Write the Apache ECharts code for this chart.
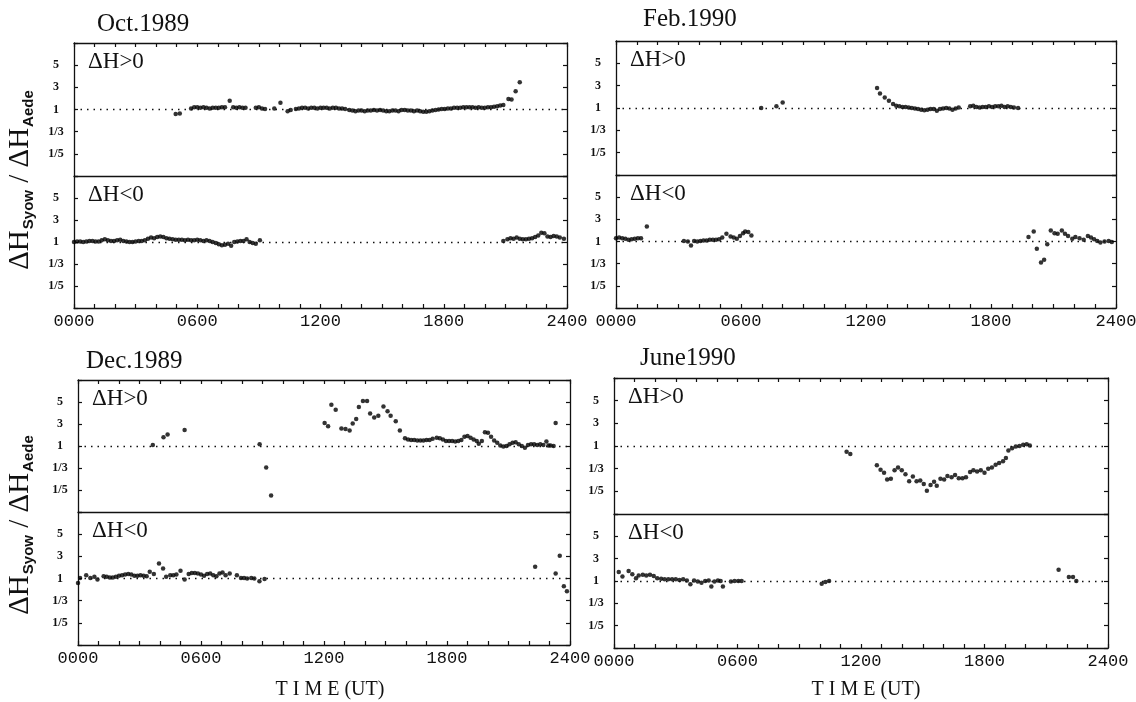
<!DOCTYPE html>
<html lang="en">
<head>
<meta charset="utf-8"/>
<title>ΔH Syow / ΔH Aede</title>
<style>
    html, body { margin: 0; padding: 0; background: #fff; }
    #chart { width: 1136px; height: 702px; }
</style>
</head>
<body>
<div id="chart"></div>
<script src="https://cdn.jsdelivr.net/npm/echarts@6/dist/echarts.min.js"></script>
<script>
// ratio level: 0 = ratio 1, +2 = 3, +4 = 5, -2 = 1/3, -4 = 1/5
var yTickValues = [-4, -2, 0, 2, 4];
var yTickLabels = ['1/5', '1/3', '1', '3', '5'];
var xTickLabels = ['0000', '0600', '1200', '1800', '2400'];
var subLabels = ['ΔH>0', 'ΔH<0'];
var monthNames = ['Oct.1989', 'Feb.1990', 'Dec.1989', 'June1990'];

// [hour UT, level]
var octUp = [[4.95,-0.4],[5.15,-0.35],
    [5.7,0.1],[5.85,0.2],[6.0,0.2],[6.15,0.15],[6.3,0.2],[6.45,0.15],[6.6,0.1],[6.75,0.15],[6.9,0.15],[7.05,0.15],[7.2,0.2],[7.35,0.2],
    [7.58,0.8],[7.75,0.2],[7.9,0.15],[8.05,0.2],[8.2,0.15],[8.35,0.15],
    [8.85,0.15],[9.0,0.2],[9.15,0.1],[9.3,0.05],[9.75,0.1],[10.05,0.6],[10.4,-0.15],[10.55,-0.05],
    [10.8,0.05],[10.95,0.1],[11.1,0.15],[11.25,0.15],[11.4,0.1],[11.55,0.15],[11.7,0.15],[11.85,0.1],[12.0,0.15],[12.15,0.15],
    [12.3,0.15],[12.45,0.1],[12.6,0.15],[12.75,0.15],[12.9,0.1],[13.05,0.1],[13.2,0.05],
    [13.4,-0.05],[13.55,-0.1],[13.7,-0.15],[13.85,-0.1],[14.0,-0.1],[14.15,-0.15],[14.3,-0.1],[14.45,-0.1],[14.6,-0.05],[14.75,-0.1],
    [14.9,-0.05],[15.05,-0.1],[15.2,-0.15],[15.35,-0.15],[15.5,-0.1],[15.65,-0.1],[15.8,-0.15],[15.95,-0.05],[16.1,-0.05],[16.25,-0.1],
    [16.4,-0.1],[16.55,-0.15],[16.7,-0.1],[16.85,-0.15],[17.0,-0.2],[17.15,-0.2],[17.3,-0.15],
    [17.45,-0.1],[17.6,-0.05],[17.75,0.0],[17.9,0.05],[18.05,0.05],[18.2,0.1],[18.35,0.1],[18.5,0.15],[18.65,0.15],[18.8,0.15],
    [18.95,0.2],[19.1,0.2],[19.25,0.2],[19.4,0.2],[19.55,0.15],[19.7,0.2],[19.85,0.15],[20.0,0.15],[20.15,0.2],[20.3,0.2],
    [20.45,0.25],[20.6,0.3],[20.75,0.35],[20.9,0.4],[21.15,0.95],[21.3,0.9],[21.5,1.65],[21.7,2.45]];

var octDn = [[0.0,0.0],[0.15,0.05],[0.3,0.05],[0.45,0.0],[0.6,0.05],[0.75,0.1],[0.9,0.1],[1.05,0.05],[1.2,0.05],[1.35,0.15],
    [1.5,0.25],[1.65,0.15],[1.8,0.1],[1.95,0.1],[2.1,0.15],[2.25,0.2],[2.4,0.1],[2.55,0.05],[2.7,0.0],[2.85,0.0],[3.0,0.05],
    [3.15,0.1],[3.3,0.1],[3.45,0.15],[3.6,0.3],[3.75,0.4],[3.9,0.35],[4.05,0.45],[4.2,0.5],[4.35,0.45],[4.5,0.35],[4.65,0.3],
    [4.8,0.25],[4.95,0.2],[5.1,0.2],[5.25,0.2],[5.4,0.15],[5.55,0.2],[5.7,0.15],[5.85,0.15],[6.0,0.2],[6.15,0.15],[6.3,0.1],
    [6.45,0.15],[6.6,0.1],[6.75,0.0],[6.9,-0.1],[7.05,-0.2],[7.2,-0.3],[7.35,-0.25],[7.5,-0.15],[7.65,-0.35],[7.8,0.0],
    [7.95,0.05],[8.1,0.1],[8.25,0.1],[8.4,0.25],[8.55,0.0],[8.7,-0.1],[8.85,-0.15],[9.05,0.15],
    [20.9,0.1],[21.1,0.25],[21.25,0.35],[21.4,0.3],[21.55,0.4],[21.7,0.3],[21.85,0.25],[22.0,0.25],[22.15,0.3],[22.3,0.35],
    [22.45,0.45],[22.6,0.6],[22.75,0.85],[22.9,0.8],[23.05,0.5],[23.2,0.45],[23.35,0.55],[23.5,0.5],[23.65,0.4],[23.85,0.3]];

var febUp = [[6.97,0.0],[7.7,0.15],[8.0,0.5],
    [12.53,1.8],[12.67,1.3],[12.9,0.95],[13.1,0.65],[13.3,0.35],[13.45,0.2],[13.6,0.15],[13.75,0.1],[13.9,0.1],[14.05,0.05],
    [14.2,0.0],[14.35,-0.05],[14.5,-0.1],[14.65,-0.15],[14.8,-0.2],[14.95,-0.15],[15.1,-0.1],[15.25,-0.1],[15.4,-0.25],
    [15.55,-0.1],[15.7,-0.05],[15.85,0.0],[16.0,-0.05],[16.15,-0.15],[16.3,-0.05],[16.45,0.05],
    [17.0,0.15],[17.15,0.2],[17.3,0.1],[17.45,0.05],[17.6,0.1],[17.75,0.1],[17.9,0.15],[18.05,0.1],[18.2,0.15],[18.35,0.15],
    [18.5,0.2],[18.65,0.1],[18.8,0.15],[18.95,0.1],[19.1,0.05],[19.3,0.0]];

var febDn = [[0.0,0.3],[0.15,0.35],[0.3,0.3],[0.45,0.25],[0.6,0.15],[0.75,0.2],[0.9,0.25],[1.05,0.3],[1.2,0.3],[1.48,1.35],
    [3.26,0.05],[3.45,0.0],[3.6,-0.35],[3.75,0.05],[3.9,0.0],[4.05,0.05],[4.2,0.1],[4.35,0.1],[4.5,0.15],[4.65,0.15],[4.8,0.15],
    [4.95,0.2],[5.1,0.35],[5.3,0.7],[5.5,0.45],[5.65,0.35],[5.8,0.25],[5.95,0.5],[6.1,0.75],[6.2,0.9],[6.35,0.85],[6.5,0.55],
    [19.8,0.4],[20.05,0.9],[20.2,-0.65],[20.4,-1.9],[20.55,-1.65],[20.7,-0.25],[20.87,1.0],[21.05,0.75],[21.2,0.7],[21.4,1.0],
    [21.55,0.7],[21.7,0.5],[21.9,0.25],[22.05,0.4],[22.25,0.3],[22.45,0.15],[22.65,0.5],[22.8,0.35],[22.95,0.2],[23.1,0.05],
    [23.25,-0.1],[23.45,0.0],[23.65,0.05],[23.8,-0.05]];

var decUp = [[3.65,0.1],[4.17,0.8],[4.37,1.05],[5.2,1.45],[8.86,0.15],[9.18,-1.95],[9.42,-4.5],
    [12.03,2.1],[12.2,1.8],[12.36,3.75],[12.57,3.3],[12.85,1.6],[13.05,1.55],[13.25,1.4],[13.4,2.05],[13.57,2.45],[13.7,3.55],
    [13.9,4.1],[14.1,4.1],[14.25,2.95],[14.45,2.6],[14.65,2.75],[14.9,3.6],[15.1,3.15],[15.25,2.75],[15.5,2.25],[15.7,1.4],
    [15.95,0.7],[16.1,0.6],[16.25,0.55],[16.4,0.55],[16.55,0.5],[16.7,0.5],[16.85,0.5],[17.0,0.55],[17.15,0.55],[17.3,0.65],
    [17.5,0.75],[17.65,0.7],[17.8,0.6],[17.95,0.45],[18.1,0.45],[18.25,0.45],[18.4,0.4],[18.55,0.45],[18.7,0.55],[18.85,0.85],
    [19.0,0.9],[19.15,0.75],[19.3,0.6],[19.45,0.45],[19.55,0.2],[19.7,0.45],[19.85,1.25],[20.0,1.2],[20.15,0.85],[20.3,0.5],
    [20.45,0.3],[20.6,0.05],[20.75,-0.05],[20.9,0.0],[21.05,0.15],[21.2,0.3],[21.35,0.35],[21.5,0.15],[21.65,0.0],[21.8,-0.15],
    [21.95,0.1],[22.1,0.15],[22.25,0.15],[22.4,0.1],[22.55,0.15],[22.7,0.1],[22.85,0.4],[22.95,0.05],[23.05,0.05],[23.2,0.0],
    [23.3,2.1]];

var decDn = [[0.0,-0.4],[0.1,0.05],[0.4,0.3],[0.6,0.05],[0.8,0.15],[0.95,-0.1],
    [1.25,0.2],[1.4,0.15],[1.55,0.1],[1.7,0.1],[1.85,0.15],[2.0,0.25],[2.15,0.3],[2.3,0.35],[2.45,0.4],[2.6,0.35],[2.75,0.25],
    [2.9,0.25],[3.05,0.3],[3.2,0.25],[3.35,0.2],[3.5,0.6],[3.7,0.4],[3.95,1.35],[4.15,0.9],[4.3,0.15],[4.5,0.3],[4.65,0.3],
    [4.8,0.35],[5.0,0.7],[5.2,-0.1],[5.4,0.4],[5.55,0.5],[5.7,0.5],[5.85,0.45],[6.0,0.35],[6.15,0.25],[6.3,0.4],[6.45,0.45],
    [6.6,0.3],[6.75,0.2],[6.9,0.45],[7.05,0.55],[7.2,0.3],[7.4,0.45],[7.75,0.3],[7.95,0.05],[8.1,0.05],[8.25,0.0],[8.45,0.05],
    [8.6,0.0],[8.85,-0.25],[9.1,-0.05],
    [22.3,1.05],[23.3,0.45],[23.5,2.05],[23.7,-0.7],[23.85,-1.15]];

var junUp = [[11.3,-0.5],[11.48,-0.7],
    [12.77,-1.7],[12.95,-2.1],[13.12,-2.35],[13.27,-2.95],[13.45,-2.9],[13.63,-2.15],[13.8,-1.9],[13.98,-2.15],[14.16,-2.5],
    [14.34,-3.1],[14.52,-2.7],[14.7,-3.1],[14.88,-3.05],[15.05,-3.35],[15.2,-3.95],[15.38,-3.45],[15.55,-3.15],[15.68,-3.5],
    [15.86,-2.9],[16.04,-2.95],[16.2,-2.65],[16.4,-2.75],[16.57,-2.55],[16.75,-2.85],[16.93,-2.85],[17.1,-2.75],[17.3,-2.3],
    [17.46,-2.15],[17.64,-2.25],[17.82,-2.15],[18.0,-2.35],[18.18,-2.0],[18.36,-1.9],[18.54,-1.65],[18.71,-1.5],[18.9,-1.35],
    [19.04,-1.05],[19.16,-0.4],[19.34,-0.2],[19.52,-0.05],[19.7,0.0],[19.88,0.1],[20.05,0.15],[20.2,0.05]];

var junDn = [[0.23,0.8],[0.41,0.4],[0.71,0.9],[0.89,0.6],[1.07,0.25],[1.2,0.5],[1.4,0.55],[1.57,0.5],[1.75,0.55],[1.93,0.45],
    [2.1,0.25],[2.29,0.2],[2.46,0.15],[2.64,0.15],[2.82,0.15],[3.0,0.15],[3.18,0.1],[3.36,0.15],[3.54,0.05],[3.71,-0.3],
    [3.89,0.05],[4.07,-0.05],[4.25,-0.15],[4.43,0.0],[4.6,0.05],[4.73,-0.5],[4.88,-0.05],[5.05,0.05],[5.18,0.0],[5.29,-0.5],
    [5.68,-0.05],[5.86,0.0],[6.04,0.0],[6.2,0.0],
    [10.09,-0.25],[10.27,-0.1],[10.45,0.0],
    [21.6,1.0],[22.1,0.35],[22.3,0.35],[22.46,0.0]];

var seriesData = [octUp, octDn, febUp, febDn, decUp, decDn, junUp, junDn];

// panel frames: left, right, top, divider, bottom (px) and title position
var frames = [
    {l: 74, r: 567, t: 43, m: 176, b: 308, tx: 97, ty: 24},
    {l: 616, r: 1116, t: 41, m: 175, b: 308, tx: 643, ty: 19},
    {l: 78, r: 570, t: 380, m: 512, b: 645, tx: 86, ty: 361},
    {l: 614, r: 1108, t: 378, m: 514, b: 648, tx: 640, ty: 358}
];

var ink = '#111';
var chart = echarts.init(document.getElementById('chart'));

var grids = [], xAxes = [], yAxes = [], series = [], graphics = [];

function levelLabel(v) {
    var i = yTickValues.indexOf(v);
    return i < 0 ? '' : yTickLabels[i];
}

function frameLine() {
    return {show: true, onZero: false, lineStyle: {color: ink, width: 1.3}};
}

function innerTick(show) {
    return {show: show, inside: true, length: 4, lineStyle: {color: ink, width: 1.2}};
}

for (var p = 0; p < 4; p++) {
    var f = frames[p];
    for (var s = 0; s < 2; s++) {
        var g = p * 2 + s;
        var gTop = s === 0 ? f.t : f.m;
        var gBottom = s === 0 ? f.m : f.b;
        grids.push({
            left: f.l, top: gTop, width: f.r - f.l, height: gBottom - gTop,
            containLabel: false, outerBoundsMode: 'none'
        });

        // bottom x axis
        xAxes.push({
            type: 'value', gridIndex: g, min: 0, max: 24, interval: 1, position: 'bottom',
            axisLine: frameLine(),
            axisTick: innerTick(s === 1),
            axisLabel: {
                show: s === 1, margin: 5, color: ink, fontSize: 17,
                fontFamily: 'Liberation Mono',
                formatter: function (v) { return v % 6 === 0 ? xTickLabels[v / 6] : ''; }
            },
            splitLine: {show: false}
        });
        // top x axis, ticks only
        xAxes.push({
            type: 'value', gridIndex: g, min: 0, max: 24, interval: 1, position: 'top',
            show: s === 0,
            axisLine: frameLine(),
            axisTick: innerTick(true),
            axisLabel: {show: false},
            splitLine: {show: false}
        });
        yAxes.push({
            type: 'value', gridIndex: g, min: -6, max: 6, interval: 2, position: 'left',
            axisLine: frameLine(),
            axisTick: innerTick(true),
            axisLabel: {
                color: ink, fontSize: 12, fontWeight: 'bold', fontFamily: 'Liberation Serif',
                align: 'center', margin: 18, formatter: levelLabel
            },
            splitLine: {show: false}
        });
        yAxes.push({
            type: 'value', gridIndex: g, min: -6, max: 6, interval: 2, position: 'right',
            axisLine: frameLine(),
            axisTick: innerTick(true),
            axisLabel: {show: false},
            splitLine: {show: false}
        });

        series.push({
            type: 'scatter', xAxisIndex: g * 2, yAxisIndex: g * 2,
            data: seriesData[g], symbol: 'circle', symbolSize: 4.5,
            itemStyle: {color: '#000'},
            markLine: {
                silent: true, symbol: 'none', animation: false,
                label: {show: false},
                lineStyle: {color: ink, type: [1.5, 5], width: 1.3},
                data: [{yAxis: 0}]
            }
        });

        graphics.push({
            type: 'text', x: f.l + 14, y: gTop + 19,
            style: {
                text: subLabels[s], fill: ink, font: '23px "Liberation Serif"',
                textAlign: 'left', textVerticalAlign: 'middle'
            }
        });
    }
    graphics.push({
        type: 'text', x: f.tx, y: f.ty,
        style: {
            text: monthNames[p], fill: ink, font: '25px "Liberation Serif"',
            textAlign: 'left', textVerticalAlign: 'middle'
        }
    });
}

// vertical y titles
[180, 525].forEach(function (cy) {
    graphics.push({
        type: 'text', x: 20, y: cy, rotation: Math.PI / 2,
        style: {
            text: '{a|ΔH}{b|Syow}{a| / ΔH}{b|Aede}',
            fill: ink, textAlign: 'center', textVerticalAlign: 'middle',
            rich: {
                a: {fontSize: 29, fontFamily: 'Liberation Serif', fill: ink, lineHeight: 32},
                b: {fontSize: 15, fontWeight: 'bold', fontFamily: 'Liberation Sans', fill: ink,
                    verticalAlign: 'bottom', lineHeight: 32, padding: [0, 0, 0, 1]}
            }
        }
    });
});

// time labels
[330, 866].forEach(function (cx) {
    graphics.push({
        type: 'text', x: cx, y: 690,
        style: {
            text: 'T I M E (UT)', fill: ink, font: '20px "Liberation Serif"',
            textAlign: 'center', textVerticalAlign: 'middle'
        }
    });
});

chart.setOption({
    animation: false,
    backgroundColor: '#fff',
    grid: grids,
    xAxis: xAxes,
    yAxis: yAxes,
    series: series,
    graphic: graphics
});
</script>
</body>
</html>
